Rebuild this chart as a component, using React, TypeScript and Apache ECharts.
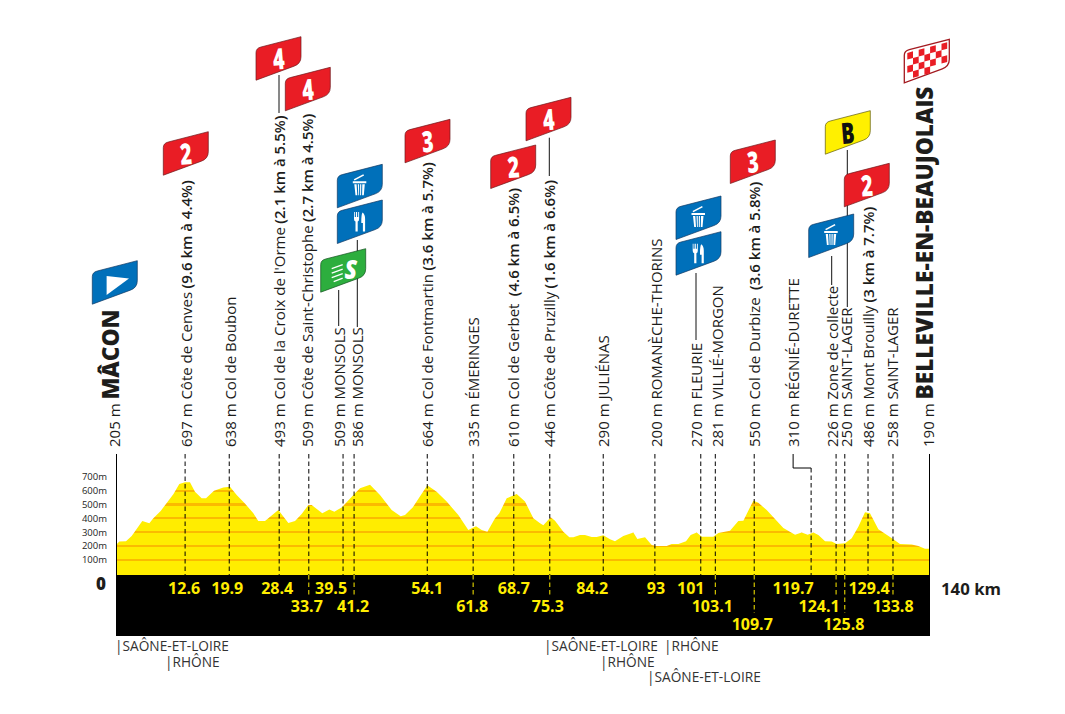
import React, { useEffect, useRef } from "react";
import * as echarts from "echarts";

// profile, km on the axis / metres
const profileKm = [0, 0.57, 1.72, 2.7, 4.53, 5.74, 6.43, 7.69, 9.87, 10.9, 11.88, 12.74, 13.6, 14.75, 15.5, 16.88, 18.48, 19.63, 20.78, 22.2, 23.65, 24.5, 25.66, 27.95, 29.68, 30.83, 31.97, 33.12, 33.7, 35.53, 36.74, 37.6, 38.86, 41.16, 42.02, 43.74, 45.46, 47.47, 49.02, 49.77, 51.09, 53.61, 55.22, 56.94, 58.95, 60.67, 61.99, 62.97, 63.95, 65.27, 66.01, 67.28, 69.0, 70.43, 71.87, 73.02, 73.59, 74.85, 75.6, 77.03, 78.07, 78.76, 79.9, 80.76, 81.91, 82.77, 83.92, 85.07, 85.93, 87.36, 89.09, 89.78, 91.1, 92.25, 93.1, 94.83, 95.69, 96.84, 98.16, 98.96, 100.0, 100.86, 102.86, 103.73, 105.73, 107.17, 108.03, 109.75, 110.61, 112.05, 114.92, 116.93, 118.08, 119.11, 120.09, 120.95, 122.1, 123.24, 124.1, 125.54, 126.69, 127.83, 128.98, 129.84, 131.28, 133.86, 135.0, 137.02, 138.17, 139.31, 140];
const profileM = [207, 231, 233, 272, 380, 364, 400, 453, 574, 649, 661, 661, 593, 545, 545, 600, 624, 629, 569, 508, 436, 380, 380, 460, 366, 380, 431, 496, 496, 436, 463, 448, 479, 581, 617, 644, 569, 460, 414, 424, 479, 639, 593, 521, 424, 315, 342, 315, 303, 400, 436, 545, 576, 521, 400, 364, 349, 407, 383, 303, 262, 262, 279, 279, 264, 264, 277, 248, 233, 272, 298, 250, 262, 207, 199, 199, 214, 214, 233, 279, 298, 267, 267, 293, 310, 380, 383, 528, 513, 460, 330, 281, 298, 281, 298, 279, 233, 231, 214, 219, 255, 339, 443, 436, 320, 248, 214, 211, 199, 180, 180];

// one entry per stop
const stopPos = [0, 11.9, 19.5, 28.1, 33.2, 39.1, 41.0, 53.6, 61.5, 68.5, 74.7, 83.9, 92.8, 100.7, 103.2, 109.9, 119.7, 124, 125.5, 129.5, 133.8, 140];
const stopAlt = ["205 m", "697 m", "638 m", "493 m", "509 m", "509 m", "586 m", "664 m", "335 m", "610 m", "446 m", "290 m", "200 m", "270 m", "281 m", "550 m", "310 m", "226 m", "250 m", "486 m", "258 m", "190 m"];
const stopName = ["MÂCON", "Côte de Cenves", "Col de Boubon", "Col de la Croix de l'Orme", "Côte de Saint-Christophe", "MONSOLS", "MONSOLS", "Col de Fontmartin", "ÉMERINGES", "Col de Gerbet", "Côte de Pruzilly", "JULIÉNAS", "ROMANÈCHE-THORINS", "FLEURIE", "VILLIÉ-MORGON", "Col de Durbize", "RÉGNIÉ-DURETTE", "Zone de collecte", "SAINT-LAGER", "Mont Brouilly", "SAINT-LAGER", "BELLEVILLE-EN-BEAUJOLAIS"];
const stopClimb = ["", "(9.6 km à 4.4%)", "", "(2.1 km à 5.5%)", "(2.7 km à 4.5%)", "", "", "(3.6 km à 5.7%)", "", " (4.6 km à 6.5%)", "(1.6 km à 6.6%)", "", "", "", "", " (3.6 km à 5.8%)", "", "", "", "(3 km à 7.7%)", "", ""];
const stopKm = ["", "12.6", "19.9", "28.4", "33.7", "39.5", "41.2", "54.1", "61.8", "68.7", "75.3", "84.2", "93", "101", "103.1", "109.7", "119.7", "124.1", "125.8", "129.4", "133.8", ""];
const stopKmRow = [0, 1, 1, 1, 2, 1, 2, 1, 2, 1, 2, 1, 1, 1, 2, 3, 1, 2, 3, 1, 2, 0];

const levels = [100, 200, 300, 400, 500, 600];
const departments = [
  { text: "|SAÔNE-ET-LOIRE", x: 115, y: 645.5 },
  { text: "|RHÔNE", x: 165, y: 661.5 },
  { text: "|SAÔNE-ET-LOIRE", x: 544, y: 645.5 },
  { text: "|RHÔNE", x: 664, y: 645.5 },
  { text: "|RHÔNE", x: 600, y: 661.5 },
  { text: "|SAÔNE-ET-LOIRE", x: 647, y: 676 },
];

// label nudges in px, from the dashed line
const labelShift = [-1, 1, 1, 0, -1, -4, 3, 0, 0, 0, 0, 0, 2, -4, 2, 0, -18, -4, 2, 0, 0, 0];
const kmShift = [0, -1, -2, -2, -2, -12, -1, 0, -1, 0, -2, -11, 1, -10, -3, -2, -18, -17, -1, 1, 0, 0];
const rowY = [0, 588, 606, 624];

const FONT = '"Open Sans", sans-serif';
const RED = "#E91D25";
const BLUE = "#0070BA";

const flagPath = "M0 43.5 L0 16 Q0 11.5 5 10.3 L45 0 L45 20 Q45 27 38 29.5 Z";
const trashPath =
  "M15.5 17 L29 17 L29 19 L15.5 19Z M17 20 L19.3 20 L20 31 L18.2 31Z M20.5 20 L21.8 20 L21.8 31 L21 31Z M22.8 20 L24 20 L23.8 31 L22.8 31Z M25 20 L27.5 20 L26.5 31 L24.8 31Z M16.5 15 L26 10 L26.8 11.3 L17.3 16.3Z";
const forkPath =
  "M16.7 12 L17.5 12 L17.5 17 L18.6 17 L18.6 12 L19.8 12 L19.8 17 L20.9 17 L20.9 12 L21.8 12 L21.8 19 Q21.8 21 20.4 21.5 L20.4 31.5 L18.2 31.5 L18.2 21.5 Q16.7 21 16.7 19 Z M25.2 12.5 Q27.8 14 27.8 19 L27.8 31.5 L25.6 31.5 L25.6 23 L24 23 Q23.8 15 25.2 12.5Z";

let checker = "";
for (let r = 0; r < 4; r++) {
  for (let c = 0; c < 7; c++) {
    if ((r + c) % 2 !== 0 || (r === 3 && c > 4)) continue;
    const x = 3 + c * 5.7;
    const y = 13.6 + r * 6.6 - c * 5.7 * 0.27;
    const w = 5.7;
    const h = 6.6;
    const s = w * 0.27;
    checker += `M${x} ${y} L${x + w} ${y - s} L${x + w} ${y - s + h} L${x} ${y + h}Z `;
  }
}

echarts.graphic.registerShape("flagShape", echarts.graphic.extendPath(flagPath, {}) as any);
echarts.graphic.registerShape("trashIcon", echarts.graphic.extendPath(trashPath, {}) as any);
echarts.graphic.registerShape("forkIcon", echarts.graphic.extendPath(forkPath, {}) as any);
echarts.graphic.registerShape("checkerIcon", echarts.graphic.extendPath(checker, {}) as any);

const flagBody = (fill: string, stroke: string, lineWidth = 0.7) => ({
  type: "flagShape",
  style: { fill, stroke, lineWidth },
});

const numeral = (text: string, fill: string) => ({
  type: "text",
  x: 22.5,
  y: 21,
  scaleX: 0.68,
  rotation: 0.08,
  style: { text, fill, align: "center", verticalAlign: "middle", fontFamily: FONT, fontWeight: 800, fontSize: 29 },
});

const redFlag = (x: number, y: number, text: string) => ({
  type: "group",
  x,
  y,
  children: [flagBody(RED, "#6d1a1c"), numeral(text, "#fff")],
});

const iconFlag = (x: number, y: number, icon: string) => ({
  type: "group",
  x,
  y,
  children: [flagBody(BLUE, "#123a63"), { type: icon, style: { fill: "#fff" } }],
});

const connector = (x: number, y1: number, y2: number) => ({
  type: "line",
  shape: { x1: x, y1, x2: x, y2 },
  style: { stroke: "#111", lineWidth: 1 },
});

const speedLine = (x1: number, y1: number, x2: number, y2: number) => ({
  type: "line",
  shape: { x1, y1, x2, y2 },
  style: { stroke: "#fff", lineWidth: 1.3 },
});

const App: React.FC = () => {
  const chartRef = useRef<HTMLDivElement>(null);

  useEffect(() => {
    if (!chartRef.current) return;
    const myChart = echarts.init(chartRef.current, undefined, { renderer: "svg" });

    const topM = Math.max(...profileM);
    const baseM = -10;
    const off = (m: number) => (topM - m) / (topM - baseM);
    const YELLOW = "#FFED00";
    const BAND = "#FBBA00";
    const stops: any[] = [{ offset: 0, color: YELLOW }];
    [...levels].reverse().forEach((m) => {
      stops.push({ offset: off(m + 8), color: YELLOW });
      stops.push({ offset: off(m + 8), color: BAND });
      stops.push({ offset: off(m - 8), color: BAND });
      stops.push({ offset: off(m - 8), color: YELLOW });
    });
    stops.push({ offset: 1, color: YELLOW });

    const renderStop = (params: any, api: any) => {
      const i = params.dataIndex;
      const x = api.coord([api.value(0), 0])[0];
      const children: any[] = [];
      const dash = [4.5, 3];

      if (i > 0 && i < stopPos.length - 1) {
        const top = stopName[i] === "RÉGNIÉ-DURETTE" ? 468 : 454;
        children.push({
          type: "line",
          shape: { x1: x, y1: top, x2: x, y2: 575 },
          style: { stroke: "#000", lineWidth: 1, lineDash: dash },
        });
        if (top === 468) {
          children.push({
            type: "polyline",
            shape: { points: [[x + labelShift[i], 454], [x + labelShift[i], 468], [x, 468]] },
            style: { stroke: "#000", lineWidth: 1, fill: "none" },
          });
        }
        const row = stopKmRow[i];
        if (row > 1) {
          children.push({
            type: "line",
            shape: { x1: x, y1: 575, x2: x, y2: row === 2 ? 595 : 613 },
            style: { stroke: "#FFED00", lineWidth: 1, lineDash: dash },
          });
        }
        children.push({
          type: "text",
          x: x + kmShift[i],
          y: rowY[row],
          style: {
            text: stopKm[i],
            fill: "#FFED00",
            align: "center",
            verticalAlign: "middle",
            fontFamily: FONT,
            fontWeight: 700,
            fontSize: 16,
          },
        });
      }

      const isTown = i === 0 || i === stopPos.length - 1;
      const climb = stopClimb[i] ? ` {c|${stopClimb[i]}}` : "";
      const name = isTown ? `{t|${stopName[i]}}` : `{n|${stopName[i]}}`;
      children.push({
        type: "text",
        x: x + labelShift[i] + (isTown ? -5 : -0.5),
        y: 447,
        rotation: Math.PI / 2,
        style: {
          text: `{n|${stopAlt[i]} }${name}${climb}`,
          align: "left",
          verticalAlign: "middle",
          fill: "#1d1d1b",
          rich: {
            n: { fontFamily: FONT, fontSize: 15, fill: "#1d1d1b", verticalAlign: "bottom" },
            c: { fontFamily: FONT, fontSize: 15, fontWeight: 600, fill: "#1d1d1b", verticalAlign: "bottom" },
            t: { fontFamily: FONT, fontSize: 22.7, fontWeight: 800, fill: "#1d1d1b", verticalAlign: "bottom" },
          },
        },
      });
      return { type: "group", children };
    };

    const option: any = {
      animation: false,
      backgroundColor: "#fff",
      grid: { left: 116, top: 449.3, width: 813, height: 193.2 },
      xAxis: { type: "value", min: 0, max: 140, show: false },
      yAxis: {
        type: "value",
        min: -500,
        max: 900,
        interval: 100,
        axisLine: { show: false },
        axisTick: { show: false },
        splitLine: { show: false },
        axisLabel: {
          margin: 9,
          color: "#1d1d1b",
          fontFamily: FONT,
          fontSize: 9.5,
          formatter: (v: number) => (v >= 100 && v <= 700 ? `${v}m` : ""),
        },
      },
      series: [
        {
          type: "line",
          data: profileKm.map((km, i) => [km, profileM[i]]),
          showSymbol: false,
          lineStyle: { width: 0 },
          silent: true,
          areaStyle: {
            origin: baseM,
            opacity: 1,
            color: new echarts.graphic.LinearGradient(0, 0, 0, 1, stops),
          },
          markArea: {
            silent: true,
            itemStyle: { color: "#000" },
            data: [[{ coord: [0, -453] }, { coord: [140, baseM] }]],
          },
          markLine: {
            silent: true,
            symbol: "none",
            label: { show: false },
            lineStyle: { color: "#000", width: 1, type: "solid" },
            data: [
              [{ coord: [0, -453] }, { coord: [0, 866] }],
              [{ coord: [140, -453] }, { coord: [140, 866] }],
            ],
          },
        },
        {
          type: "custom",
          z: 5,
          silent: true,
          data: stopPos.map((km) => [km]),
          encode: { x: 0 },
          renderItem: renderStop,
        },
      ],
      graphic: [
        connector(279, 75, 113),
        connector(338.7, 290, 326),
        connector(357.3, 240, 327),
        connector(549.3, 137.7, 176),
        connector(696, 273, 340),
        connector(831.7, 256, 285),
        connector(847.3, 150, 307),
        redFlag(163.3, 131.7, "2"),
        redFlag(256, 36.7, "4"),
        redFlag(285.3, 67.3, "4"),
        redFlag(405, 119.3, "3"),
        redFlag(490.7, 145, "2"),
        redFlag(526, 97.3, "4"),
        redFlag(730.3, 140, "3"),
        redFlag(844.3, 163.3, "2"),
        {
          type: "group",
          x: 92.3,
          y: 260.7,
          children: [
            flagBody(BLUE, "#123a63"),
            { type: "polygon", shape: { points: [[14.3, 15.3], [36.7, 17.7], [14.3, 34.3]] }, style: { fill: "#fff" } },
          ],
        },
        iconFlag(337.3, 164.3, "trashIcon"),
        iconFlag(337.3, 200, "forkIcon"),
        iconFlag(676, 196, "trashIcon"),
        iconFlag(676, 231.7, "forkIcon"),
        iconFlag(808.7, 214, "trashIcon"),
        {
          type: "group",
          x: 320.7,
          y: 248.7,
          children: [
            flagBody("#2DAE3E", "#14521f"),
            speedLine(11, 20, 22, 16),
            speedLine(11, 24.5, 22, 20.5),
            speedLine(11, 29, 22, 25),
            speedLine(13, 33, 22, 29.5),
            {
              type: "text",
              x: 30,
              y: 20,
              scaleX: 0.85,
              style: { text: "S", fill: "#fff", align: "center", verticalAlign: "middle", fontFamily: FONT, fontWeight: 800, fontStyle: "italic", fontSize: 27 },
            },
          ],
        },
        {
          type: "group",
          x: 825.3,
          y: 110.7,
          children: [flagBody("#FFF000", "#5f5a10"), numeral("B", "#111")],
        },
        {
          type: "group",
          x: 904.3,
          y: 39.3,
          children: [flagBody("#fff", "#a31a20", 1.3), { type: "checkerIcon", style: { fill: RED } }],
        },
        {
          type: "text",
          x: 101,
          y: 583,
          style: { text: "0", fill: "#1d1d1b", align: "center", verticalAlign: "middle", fontFamily: FONT, fontWeight: 800, fontSize: 17 },
        },
        {
          type: "text",
          x: 941,
          y: 588,
          style: { text: "140 km", fill: "#1d1d1b", align: "left", verticalAlign: "middle", fontFamily: FONT, fontWeight: 700, fontSize: 16.8 },
        },
        ...departments.map((d) => ({
          type: "text",
          x: d.x,
          y: d.y,
          style: { text: d.text, fill: "#333", align: "left", verticalAlign: "middle", fontFamily: FONT, fontSize: 13.7, lineHeight: 14 },
        })),
      ],
    };

    myChart.setOption(option);
    return () => {
      myChart.dispose();
    };
  }, []);

  return <div ref={chartRef} style={{ position: "fixed", left: 0, top: 0, width: 1065, height: 714 }} />;
};

export default App;
